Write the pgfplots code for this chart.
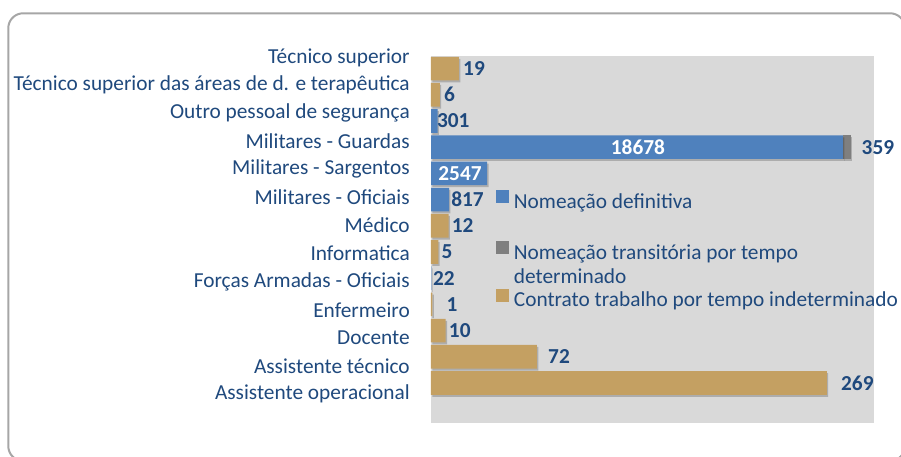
\documentclass[border=0pt]{standalone}
\usepackage{fontspec}
\setmainfont{Carlito}
\usepackage{pgfplots}
\usepackage{pgfplotstable}
\pgfplotsset{compat=1.18}
\usetikzlibrary{shadows}

\definecolor{barblue}{HTML}{4F81BD}
\definecolor{bargray}{HTML}{7F7F7F}
\definecolor{bartan}{HTML}{C4A062}
\definecolor{plotbg}{HTML}{D9D9D9}
\definecolor{txtblue}{HTML}{1F497D}
\definecolor{framegray}{HTML}{A6A6A6}

% y = category index from the bottom, dx = label offset in px from the bar end
\pgfplotstableread{
y val dx
0 269 14
1 72 11
2 10 3
3 1 14
5 5 3
6 12 3
11 6 4
12 19 4
}\tandata

% stacked labels sit at the middle of each bar; dxd/dxt = offset in px from there
% out = 1 when the value is written beside the bar, 0 when centred inside it
\pgfplotstableread{
y def trans dxd out dxt
4 22 0 1.5 1 0
7 817 0 11 1 0
8 2547 0 0 0 0
9 18678 359 0 0 14.5
10 301 0 2.5 1 0
}\bluedata

\tikzset{
  barshadow/.style={drop shadow={shadow xshift=1pt, shadow yshift=-1.5pt, fill=black, opacity=0.2}},
  barlabel/.style={inner sep=0pt, anchor=west, font=\fontsize{16}{18}\selectfont\bfseries},
}

\pgfplotsset{
  chartbase/.style={
    at={(323.25pt,25.5pt)}, anchor=south west,
    scale only axis, width=332.25pt, height=275.25pt,
    xmin=0, ymin=-1.527, ymax=12.48,
    axis line style={draw=none},
    xtick=\empty,
    major tick length=0pt,
    bar width=0.9,
    /pgf/number format/1000 sep={},
    /pgf/number format/assume math mode=true,
    legend image code/.code={\fill[##1] (0pt,-1.125pt) rectangle (9.75pt,8.625pt);},
    legend style={draw=none, fill=none, inner sep=0pt,
      font=\fontsize{16}{18}\selectfont, text=txtblue,
      nodes={inner xsep=3.75pt, inner ysep=1pt, align=left}, row sep=2pt},
    legend cell align=left,
  },
  % square raised to the first of two text lines
  upperlegend/.style={legend image code/.code={\fill[##1] (0pt,7.875pt) rectangle (9.75pt,17.625pt);}},
}

\begin{document}
\begin{tikzpicture}
\useasboundingbox (0,0) rectangle (675.75pt,342.75pt);
\clip (0,0) rectangle (675.75pt,342.75pt);
\draw[framegray, line width=1.5pt, rounded corners=11.25pt] (6.2pt,-3pt) rectangle (678.75pt,332.8pt);

% blue and grey series (own scale)
\begin{axis}[xbar stacked, chartbase, xmax=20084, ytick=\empty,
  axis background/.style={fill=plotbg},
  legend style={at={(0.146,0.605)}, anchor=west}]
\addlegendimage{fill=barblue, draw=none}
\addplot[fill=barblue, draw=none, barshadow, point meta=explicit,
  visualization depends on={\thisrow{dxd} \as \dxd},
  visualization depends on={\thisrow{out} \as \outv},
  nodes near coords={\ifdim\outv pt>0pt \pgfmathprintnumber{\pgfplotspointmeta}%
    \else\makebox[0pt]{\color{white}\pgfmathprintnumber{\pgfplotspointmeta}}\fi},
  every node near coord/.append style={barlabel, xshift=\dxd*0.75pt, text=txtblue}]
  table[x=def, y=y, meta=def]{\bluedata};
\addplot[fill=bargray, draw=none, barshadow, point meta=explicit,
  nodes near coords={\pgfmathfloatifflags{\pgfplotspointmeta}{0}{}{\pgfmathprintnumber{\pgfplotspointmeta}}},
  visualization depends on={\thisrow{dxt} \as \dxt},
  every node near coord/.append style={barlabel, xshift=\dxt*0.75pt, text=txtblue}]
  table[x=trans, y=y, meta=trans]{\bluedata};
\legend{Nomeação definitiva}
\end{axis}

% tan series (own scale) and category labels
\begin{axis}[xbar, chartbase, xmax=301,
  ytick={-0.38,0.69,1.77,2.84,3.92,4.99,6.07,7.14,8.22,9.29,10.37,11.45,12.47},
  yticklabels={Assistente operacional, Assistente técnico, Docente, Enfermeiro,
    Forças Armadas - Oficiais, Informatica, Médico, Militares - Oficiais,
    Militares - Sargentos, Militares - Guardas, Outro pessoal de segurança,
    Técnico superior das áreas de d. e terapêutica, Técnico superior},
  y tick label style={font=\fontsize{16}{18}\selectfont, text=txtblue,
    inner sep=0pt, anchor=east, xshift=-15.75pt, yshift=-1pt},
  legend style={at={(0.146,0.496)}, anchor=north west}]
\addlegendimage{fill=bargray, draw=none, upperlegend}
\addlegendimage{fill=bartan, draw=none}
\addplot[fill=bartan, draw=none, barshadow, point meta=explicit,
  nodes near coords,
  visualization depends on={\thisrow{dx} \as \dx},
  every node near coord/.append style={barlabel, xshift=\dx*0.75pt, text=txtblue}]
  table[x=val, y=y, meta=val]{\tandata};
\legend{{Nomeação transitória por tempo\\determinado}, Contrato trabalho por tempo indeterminado}
\end{axis}
\end{tikzpicture}
\end{document}
